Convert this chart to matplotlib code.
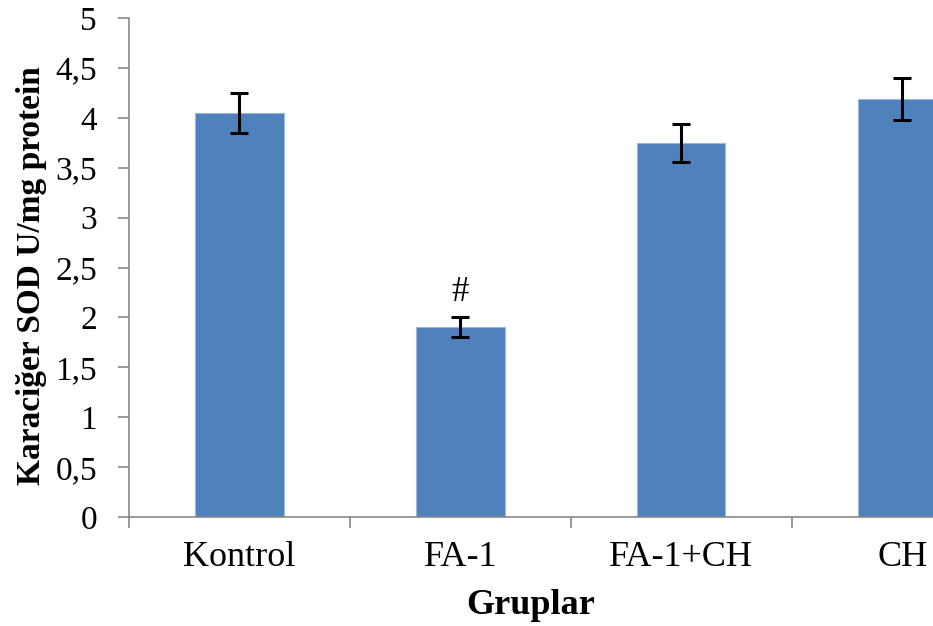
import matplotlib
matplotlib.use("Agg")
import matplotlib.pyplot as plt

groups = ["Kontrol", "FA-1", "FA-1+CH", "CH"]
sod_means = [4.05, 1.90, 3.75, 4.19]
sod_errors = [0.20, 0.10, 0.19, 0.21]
y_ticks = [0, 0.5, 1, 1.5, 2, 2.5, 3, 3.5, 4, 4.5, 5]
y_tick_labels = ["0", "0,5", "1", "1,5", "2", "2,5", "3", "3,5", "4", "4,5", "5"]

plt.rcParams["font.family"] = ["Liberation Serif", "DejaVu Serif"]

fig = plt.figure(figsize=(9.33, 6.26), dpi=100)
ax = fig.add_axes([0.1383, 0.1741, 0.8617, 0.7971])

x = list(range(len(groups)))
ax.bar(x, sod_means, width=0.4, color="#4F81BD", edgecolor="#9DB7DA", linewidth=0.8,
       zorder=2)
ax.errorbar(x, sod_means, yerr=sod_errors, fmt="none", ecolor="black",
            elinewidth=2.2, capsize=6.5, capthick=2.2, zorder=3)

ax.text(1, sod_means[1] + sod_errors[1] + 0.08, "#", ha="center", va="bottom",
        fontsize=25)

ax.set_xlim(-0.5, 3.14)
ax.set_ylim(0, 5)
ax.set_yticks(y_ticks)
ax.set_yticklabels(y_tick_labels, fontsize=24)
ax.set_xticks(x)
ax.set_xticklabels(groups, fontsize=26)
ax.set_xticks([-0.5, 0.5, 1.5, 2.5], minor=True)
ax.tick_params(axis="x", which="major", length=0, pad=17)
ax.tick_params(axis="x", which="minor", length=8, width=1.2, color="#888888")
ax.tick_params(axis="y", length=8, width=1.2, color="#888888", pad=15)

for side in ("top", "right"):
    ax.spines[side].set_visible(False)
for side in ("left", "bottom"):
    ax.spines[side].set_color("#888888")
    ax.spines[side].set_linewidth(1.2)

ax.set_xlabel("Gruplar", fontsize=26, fontweight="bold", labelpad=11)
ax.set_ylabel("Karaciğer SOD U/mg protein", fontsize=24, fontweight="bold",
              labelpad=6, y=0.483)

fig.savefig("out.png", dpi=100)
